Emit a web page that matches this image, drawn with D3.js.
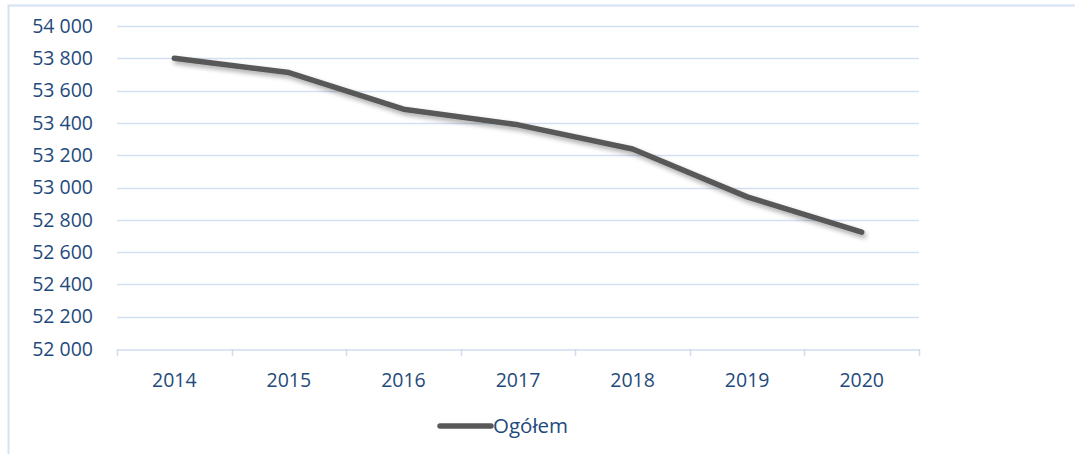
<!DOCTYPE html>
<html>
    <head>
        <script src="https://cdnjs.cloudflare.com/ajax/libs/d3/7.8.5/d3.min.js"></script>
        <style>
            html, body { margin: 0; background: #fff; }
            svg { display: block; }
            .tick text { font-family: "Open Sans", sans-serif; font-size: 19.5px; fill: #1f4a7c; }
        </style>
    </head>
    <body>
        <svg width="1075" height="454" class="svg_canvas"></svg>
        <script>
            var years = ["2014", "2015", "2016", "2017", "2018", "2019", "2020"];
            var ogolem = [53800, 53712, 53485, 53388, 53238, 52942, 52724];
            var yTicks = [52000, 52200, 52400, 52600, 52800, 53000, 53200, 53400, 53600, 53800, 54000];

            var svg = d3.select(".svg_canvas");
            var pLeft = 117, pRight = 919, pTop = 26, pBottom = 349;

            // ramka
            svg.append("rect")
                .attr("x", 8.5).attr("y", 5.5)
                .attr("width", 1100).attr("height", 500)
                .attr("fill", "none")
                .attr("stroke", "#d5e2f2")
                .attr("stroke-width", 2);

            var x = d3.scaleBand().domain(years).range([pLeft, pRight]);
            var y = d3.scaleLinear().domain([52000, 54000]).range([pBottom, pTop]);

            var fmt = function(d) { return d3.format(",")(d).replace(",", " "); };

            // siatka
            svg.append("g")
                .selectAll("line")
                .data(yTicks.slice(1))
                .enter()
                .append("line")
                .attr("x1", pLeft).attr("x2", pRight)
                .attr("y1", function(d) { return Math.round(y(d)) + 0.5; })
                .attr("y2", function(d) { return Math.round(y(d)) + 0.5; })
                .attr("stroke", "#d3e0f2")
                .attr("stroke-width", 1.5);

            var yAxis = svg.append("g")
                .attr("transform", "translate(" + pLeft + ",0)")
                .call(d3.axisLeft(y).tickValues(yTicks).tickFormat(fmt).tickSize(0).tickPadding(24));
            yAxis.select(".domain").remove();

            var xAxis = svg.append("g")
                .attr("transform", "translate(0," + (Math.round(pBottom) + 0.5) + ")")
                .call(d3.axisBottom(x).tickSize(0).tickPadding(24));
            xAxis.select(".domain").attr("stroke", "#cfdcef").attr("stroke-width", 1.5);

            // znaczniki między kategoriami
            svg.append("g")
                .selectAll("line")
                .data(years.concat(["end"]))
                .enter()
                .append("line")
                .attr("x1", function(d, i) { return Math.round(pLeft + i * x.step()) + 0.5; })
                .attr("x2", function(d, i) { return Math.round(pLeft + i * x.step()) + 0.5; })
                .attr("y1", pBottom)
                .attr("y2", pBottom + 7)
                .attr("stroke", "#cfdcef")
                .attr("stroke-width", 1.5);

            var defs = svg.append("defs");
            var f = defs.append("filter").attr("id", "cien")
                .attr("x", "-10%").attr("y", "-50%").attr("width", "120%").attr("height", "200%");
            f.append("feGaussianBlur").attr("in", "SourceAlpha").attr("stdDeviation", 2.5);
            f.append("feOffset").attr("dx", 2).attr("dy", 3).attr("result", "b");
            f.append("feComponentTransfer").append("feFuncA").attr("type", "linear").attr("slope", 0.35);
            var m = f.append("feMerge");
            m.append("feMergeNode");
            m.append("feMergeNode").attr("in", "SourceGraphic");

            var line = d3.line()
                .x(function(d, i) { return x(years[i]) + x.bandwidth() / 2; })
                .y(function(d) { return y(d); });

            svg.append("path")
                .datum(ogolem)
                .attr("d", line)
                .attr("fill", "none")
                .attr("stroke", "#595959")
                .attr("stroke-width", 5.5)
                .attr("stroke-linecap", "round")
                .attr("stroke-linejoin", "round")
                .attr("filter", "url(#cien)");

            // legenda
            svg.append("line")
                .attr("x1", 440).attr("x2", 491)
                .attr("y1", 426).attr("y2", 426)
                .attr("stroke", "#595959")
                .attr("stroke-width", 5.5)
                .attr("stroke-linecap", "round");
            svg.append("text")
                .attr("x", 493).attr("y", 426)
                .attr("dy", "0.35em")
                .style("font-family", "'Open Sans', sans-serif")
                .style("font-size", "20.5px")
                .style("fill", "#1f4a7c")
                .text("Ogółem");
        </script>
    </body>
</html>
